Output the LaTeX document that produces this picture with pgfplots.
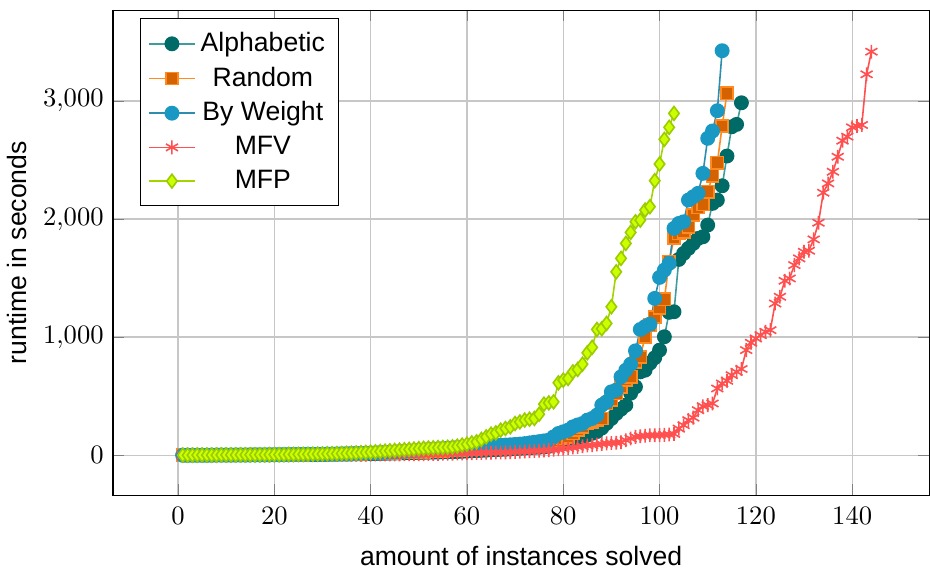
\documentclass[border=0pt]{standalone}
\usepackage{fontspec}
\setmainfont{Liberation Sans}
\usepackage{pgfplots}
\pgfplotsset{compat=1.18}
\definecolor{alphline}{HTML}{3F9C9C}
\definecolor{alphfill}{HTML}{006A66}
\definecolor{randline}{HTML}{FF8A1F}
\definecolor{randfill}{HTML}{D46200}
\definecolor{bwline}{HTML}{2E8DAE}
\definecolor{bwfill}{HTML}{1898C2}
\definecolor{mfv}{HTML}{FF4F4F}
\definecolor{mfpline}{HTML}{A3D400}
\definecolor{mpffill}{HTML}{CCFF00}
\definecolor{mfpdraw}{HTML}{9ACC00}
\begin{document}
\begin{tikzpicture}
\begin{axis}[
  scale only axis,
  width=307pt, height=182.5pt,
  xmin=-13.5, xmax=156,
  ymin=-340, ymax=3770,
  xtick={0,20,40,60,80,100,120,140},
  ytick={0,1000,2000,3000},
  scaled y ticks=false,
  grid=major,
  major grid style={black!22, line width=0.5pt},
  xlabel={amount of instances solved},
  ylabel={runtime in seconds},
  xticklabel style={yshift=-1.1pt},
  xlabel style={yshift=-1.1pt},
  ylabel style={yshift=-0.6pt},
  legend cell align=center,
  legend style={at={(0.033,0.983)}, anchor=north west, draw=black, fill=white, row sep=0.3pt, inner ysep=3pt},
]
\addplot[color=alphline, line width=0.6pt, mark=*, mark size=2.5pt, mark options={fill=alphfill, draw=alphfill}] coordinates {
(1,0)(2,0)(3,0)(4,0)(5,0)(6,0)(7,0)(8,1)(9,1)(10,1)
(11,1)(12,1)(13,1)(14,1)(15,2)(16,2)(17,2)(18,2)(19,2)(20,3)
(21,3)(22,3)(23,3)(24,4)(25,4)(26,4)(27,5)(28,5)(29,5)(30,6)
(31,6)(32,7)(33,7)(34,8)(35,8)(36,9)(37,10)(38,10)(39,11)(40,12)
(41,13)(42,14)(43,15)(44,16)(45,17)(46,18)(47,19)(48,20)(49,21)(50,22)
(51,23)(52,24)(53,25)(54,26)(55,27)(56,28)(57,29)(58,30)(59,32)(60,34)
(61,36)(62,38)(63,40)(64,42)(65,44)(66,46)(67,48)(68,50)(69,52)(70,55)
(71,57)(72,60)(73,62)(74,65)(75,67)
(76,70)(77,75)(78,85)(79,95)(80,110)(81,120)(82,130)(83,140)(84,155)(85,170)
(86,185)(87,200)(88,230)(89,270)(90,311)(91,353)(92,390)(93,424)(94,525)(95,579)
(96,706)(97,720)(98,780)(99,825)(100,890)(101,1003)(102,1210)(103,1215)(104,1658)(105,1709)
(106,1752)(107,1794)(108,1836)(109,1850)(110,1949)(111,2133)(112,2161)(113,2282)(114,2534)(115,2782)
(116,2802)(117,2985)
};
\addlegendentry{Alphabetic}
\addplot[color=randline, line width=0.6pt, mark=square*, mark size=2.3pt, mark options={fill=randfill, draw=randline}] coordinates {
(1,0)(2,0)(3,0)(4,0)(5,0)(6,0)(7,1)(8,1)(9,1)(10,1)
(11,1)(12,1)(13,2)(14,2)(15,2)(16,2)(17,3)(18,3)(19,3)(20,3)
(21,4)(22,4)(23,4)(24,5)(25,5)(26,5)(27,6)(28,6)(29,7)(30,7)
(31,8)(32,8)(33,9)(34,9)(35,10)(36,11)(37,12)(38,13)(39,14)(40,15)
(41,16)(42,17)(43,18)(44,20)(45,21)(46,23)(47,24)(48,26)(49,27)(50,29)
(51,30)(52,32)(53,34)(54,36)(55,38)(56,40)(57,42)(58,44)(59,46)(60,48)
(61,50)(62,53)(63,56)(64,59)(65,62)(66,65)(67,68)(68,71)(69,74)(70,77)
(71,80)(72,83)(73,86)(74,89)(75,92)
(76,97)(77,105)(78,113)(79,127)(80,141)(81,155)(82,184)(83,212)(84,240)(85,268)
(86,282)(87,297)(88,311)(89,438)(90,466)(91,523)(92,579)(93,636)(94,664)(95,791)
(96,833)(97,1003)(98,1100)(99,1172)(100,1250)(101,1320)(102,1640)(103,1840)(104,1879)(105,1893)
(106,1935)(107,2034)(108,2099)(109,2125)(110,2232)(111,2367)(112,2477)(113,2788)(114,3065)
};
\addlegendentry{Random}
\addplot[color=bwline, line width=0.6pt, mark=*, mark size=2.5pt, mark options={fill=bwfill, draw=bwfill}] coordinates {
(1,0)(2,0)(3,0)(4,0)(5,0)(6,0)(7,1)(8,1)(9,1)(10,1)
(11,1)(12,2)(13,2)(14,2)(15,2)(16,3)(17,3)(18,3)(19,4)(20,4)
(21,4)(22,5)(23,5)(24,6)(25,6)(26,7)(27,7)(28,8)(29,8)(30,9)
(31,10)(32,10)(33,11)(34,12)(35,13)(36,14)(37,15)(38,16)(39,17)(40,18)
(41,20)(42,22)(43,24)(44,26)(45,28)(46,30)(47,32)(48,35)(49,38)(50,41)
(51,44)(52,47)(53,50)(54,53)(55,56)(56,59)(57,62)(58,65)(59,68)(60,70)
(61,72)(62,74)(63,76)(64,78)(65,80)(66,82)(67,84)(68,86)(69,88)(70,91)
(71,94)(72,98)(73,104)(74,110)(75,115)
(76,121)(77,127)(78,155)(79,184)(80,198)(81,212)(82,240)(83,256)(84,268)(85,297)
(86,311)(87,339)(88,424)(89,452)(90,537)(91,551)(92,664)(93,720)(94,771)(95,884)
(96,1065)(97,1090)(98,1110)(99,1328)(100,1506)(101,1568)(102,1625)(103,1921)(104,1963)(105,1977)
(106,2161)(107,2189)(108,2218)(109,2387)(110,2684)(111,2746)(112,2918)(113,3426)
};
\addlegendentry{By Weight}
\addplot[color=mfv, line width=0.6pt, mark=asterisk, mark size=2.6pt] coordinates {
(1,0)(2,0)(3,0)(4,0)(5,0)(6,0)(7,0)(8,0)(9,0)(10,0)
(11,0)(12,0)(13,1)(14,1)(15,1)(16,1)(17,1)(18,1)(19,1)(20,1)
(21,1)(22,2)(23,2)(24,2)(25,2)(26,2)(27,2)(28,3)(29,3)(30,3)
(31,3)(32,3)(33,4)(34,4)(35,4)(36,4)(37,5)(38,5)(39,5)(40,5)
(41,6)(42,6)(43,6)(44,7)(45,7)(46,7)(47,8)(48,8)(49,8)(50,9)
(51,9)(52,10)(53,10)(54,11)(55,12)(56,12)(57,13)(58,14)(59,15)(60,16)
(61,17)(62,18)(63,19)(64,20)(65,21)(66,22)(67,23)(68,24)(69,25)(70,27)
(71,29)(72,31)(73,33)(74,35)(75,37)
(76,40)(77,43)(78,46)(79,50)(80,55)(81,60)(82,65)(83,70)(84,76)(85,82)
(86,85)(87,90)(88,95)(89,100)(90,103)(91,105)(92,110)(93,127)(94,141)(95,155)
(96,161)(97,164)(98,169)(99,169)(100,170)(101,172)(102,175)(103,180)(104,225)(105,254)
(106,297)(107,318)(108,381)(109,415)(110,424)(111,438)(112,565)(113,607)(114,630)(115,678)
(116,706)(117,730)(118,890)(119,952)(120,989)(121,1017)(122,1045)(123,1059)(124,1285)(125,1342)
(126,1477)(127,1497)(128,1610)(129,1667)(130,1723)(131,1732)(132,1828)(133,1969)(134,2223)(135,2302)
(136,2401)(137,2528)(138,2664)(139,2698)(140,2777)(141,2788)(142,2797)(143,3226)(144,3418)
};
\addlegendentry{MFV}
\addplot[color=mfpline, line width=0.6pt, mark=diamond*, mark size=2.6pt, mark options={fill=mpffill, draw=mfpdraw}] coordinates {
(1,0)(2,0)(3,0)(4,1)(5,1)(6,1)(7,1)(8,1)(9,2)(10,2)
(11,2)(12,2)(13,3)(14,3)(15,3)(16,3)(17,4)(18,4)(19,4)(20,5)
(21,5)(22,5)(23,6)(24,6)(25,7)(26,7)(27,8)(28,8)(29,9)(30,10)
(31,11)(32,12)(33,13)(34,14)(35,15)(36,17)(37,19)(38,21)(39,23)(40,25)
(41,28)(42,31)(43,34)(44,37)(45,40)(46,43)(47,46)(48,49)(49,52)(50,55)
(51,58)(52,60)(53,62)(54,64)
(55,65)(56,67)(57,70)(58,76)(59,85)(60,93)(61,104)(62,113)(63,133)(64,155)
(65,178)(66,189)(67,212)(68,226)(69,240)(70,268)(71,282)(72,297)(73,305)(74,311)
(75,347)(76,432)(77,443)(78,452)(79,613)(80,636)(81,650)(82,706)(83,726)(84,771)
(85,867)(86,913)(87,1065)(88,1071)(89,1116)(90,1257)(91,1553)(92,1667)(93,1794)(94,1887)
(95,1977)(96,1991)(97,2076)(98,2105)(99,2325)(100,2466)(101,2675)(102,2777)(103,2895)
};
\addlegendentry{MFP}
\coordinate (bl) at (rel axis cs:0,0);
\coordinate (tr) at (rel axis cs:1,1);
\end{axis}
\pgfresetboundingbox
\path ([xshift=-42.5pt,yshift=-28.2pt]bl) rectangle ([xshift=0.3pt,yshift=3.8pt]tr);
\end{tikzpicture}
\end{document}
